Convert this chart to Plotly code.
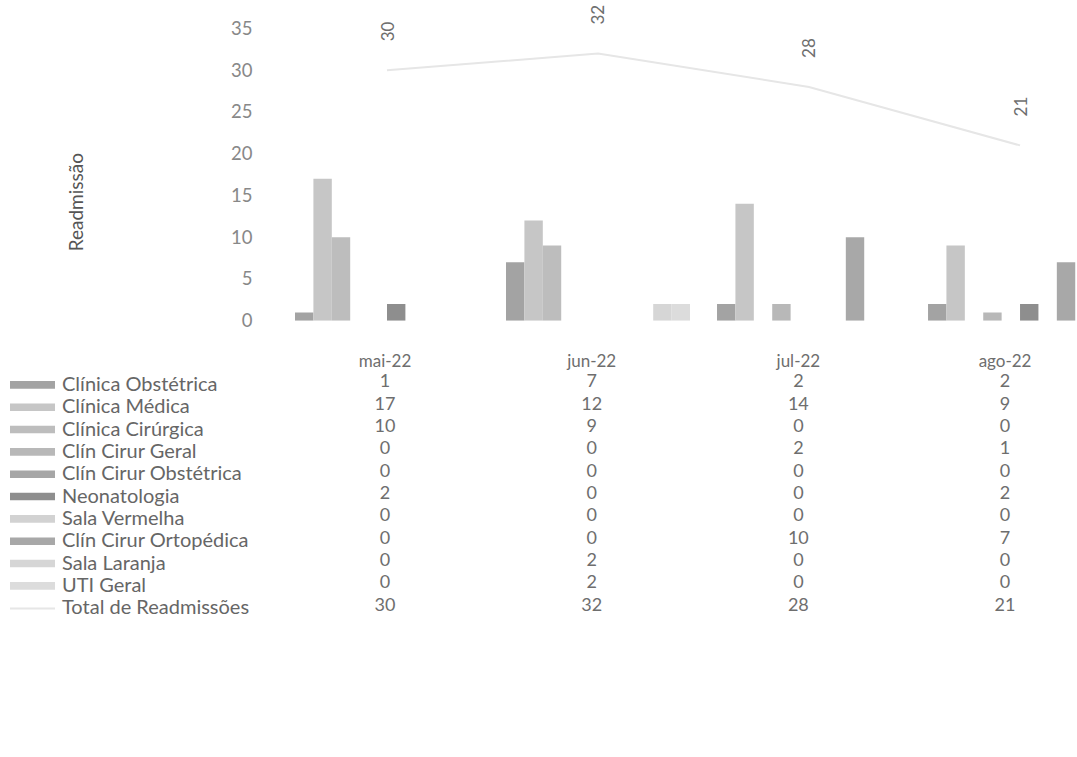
import plotly.graph_objects as go

months = ["mai-22", "jun-22", "jul-22", "ago-22"]
series_names = [
    "Clínica Obstétrica", "Clínica Médica", "Clínica Cirúrgica", "Clín Cirur Geral",
    "Clín Cirur Obstétrica", "Neonatologia", "Sala Vermelha", "Clín Cirur Ortopédica",
    "Sala Laranja", "UTI Geral",
]
clinica_obstetrica = [1, 7, 2, 2]
clinica_medica = [17, 12, 14, 9]
clinica_cirurgica = [10, 9, 0, 0]
clin_cirur_geral = [0, 0, 2, 1]
clin_cirur_obstetrica = [0, 0, 0, 0]
neonatologia = [2, 0, 0, 2]
sala_vermelha = [0, 0, 0, 0]
clin_cirur_ortopedica = [0, 0, 10, 7]
sala_laranja = [0, 2, 0, 0]
uti_geral = [0, 2, 0, 0]
total_name = "Total de Readmissões"
total_readmissoes = [30, 32, 28, 21]
y_ticks = [0, 5, 10, 15, 20, 25, 30, 35]

series_values = [
    clinica_obstetrica, clinica_medica, clinica_cirurgica, clin_cirur_geral,
    clin_cirur_obstetrica, neonatologia, sala_vermelha, clin_cirur_ortopedica,
    sala_laranja, uti_geral,
]
colors = ["#a3a3a3", "#c6c6c6", "#bdbdbd", "#b8b8b8", "#a6a6a6",
          "#8e8e8e", "#d2d2d2", "#a8a8a8", "#d6d6d6", "#dcdcdc"]
line_color = "#e6e6e6"
text_color = "#6e6e6e"
FONT = "Lato, 'Open Sans', sans-serif"

W, H = 1077, 757
def px(x):
    return x / W
def py(y):
    return (H - y) / H

fig = go.Figure()
for name, vals, col in zip(series_names, series_values, colors):
    fig.add_trace(go.Bar(x=months, y=vals, name=name, marker_color=col,
                         marker_line_width=0, showlegend=False))
fig.add_trace(go.Scatter(x=months, y=total_readmissoes, mode="lines", name=total_name,
                         line=dict(color=line_color, width=2), showlegend=False,
                         cliponaxis=False))
for m, v in zip(months, total_readmissoes):
    fig.add_annotation(x=m, y=v, xref="x", yref="y", text=str(v), textangle=-90,
                       showarrow=False, yshift=39, yanchor="middle", xanchor="center",
                       font=dict(family=FONT, size=17, color=text_color))

# data table: header row (months) and value rows
fig.add_trace(go.Scatter(x=list(range(len(months))), y=[0.12] * len(months), text=months,
                         mode="text", xaxis="x2", yaxis="y2", textposition="middle center",
                         showlegend=False, cliponaxis=False,
                         textfont=dict(family=FONT, size=17, color=text_color)))
row_count = len(series_names) + 1
tx, ty, tt = [], [], []
for r, vals in enumerate(series_values + [total_readmissoes]):
    for i, v in enumerate(vals):
        tx.append(i); ty.append(r + 1); tt.append(str(v))
fig.add_trace(go.Scatter(x=tx, y=ty, text=tt, mode="text", xaxis="x2", yaxis="y2",
                         textposition="middle center", showlegend=False,
                         textfont=dict(family=FONT, size=18, color=text_color),
                         cliponaxis=False))

row_labels = series_names + [total_name]
for r, lab in enumerate(row_labels):
    fig.add_annotation(x=px(60), y=r + 1, xref="paper", yref="y2", text=lab,
                       showarrow=False, xanchor="left", yanchor="middle",
                       font=dict(family=FONT, size=20, color="#666666"))
for r, col in enumerate(colors):
    fig.add_shape(type="rect", xref="paper", yref="y2", x0=px(10), x1=px(55),
                  y0=r + 1 - 0.08, y1=r + 1 + 0.26, fillcolor=col, line_width=0)
fig.add_shape(type="line", xref="paper", yref="y2", x0=px(10), x1=px(55),
              y0=row_count + 0.1, y1=row_count + 0.1, line=dict(color=line_color, width=2))

fig.add_annotation(x=px(75), y=py(196), xref="paper", yref="paper", text="Readmissão",
                   textangle=-90, showarrow=False, xanchor="center", yanchor="middle",
                   font=dict(family=FONT, size=19, color="#555555"))

dom_x = [px(281.5), 1]
fig.update_layout(
    width=W, height=H, margin=dict(l=0, r=0, t=0, b=0),
    paper_bgcolor="white", plot_bgcolor="white",
    barmode="group", bargap=0.128, bargroupgap=0,
    xaxis=dict(domain=dom_x, range=[-0.5, 3.27], showticklabels=False, showgrid=False,
               zeroline=False, showline=False, type="category", categoryarray=months),
    yaxis=dict(domain=[py(318), py(17)], range=[0, 35], tickvals=y_ticks,
               showgrid=False, zeroline=False, showline=False, ticks="",
               ticklabelstandoff=28,
               tickfont=dict(family=FONT, size=18.5, color="#888888")),
    xaxis2=dict(domain=dom_x, range=[-0.5007, 3.348], anchor="y2", visible=False),
    yaxis2=dict(domain=[py(640), py(340)], range=[12.217, -0.826], anchor="x2", visible=False),
)
fig.write_html("out.html", post_script="document.body.style.margin='0px';",
               config={"displayModeBar": False})
